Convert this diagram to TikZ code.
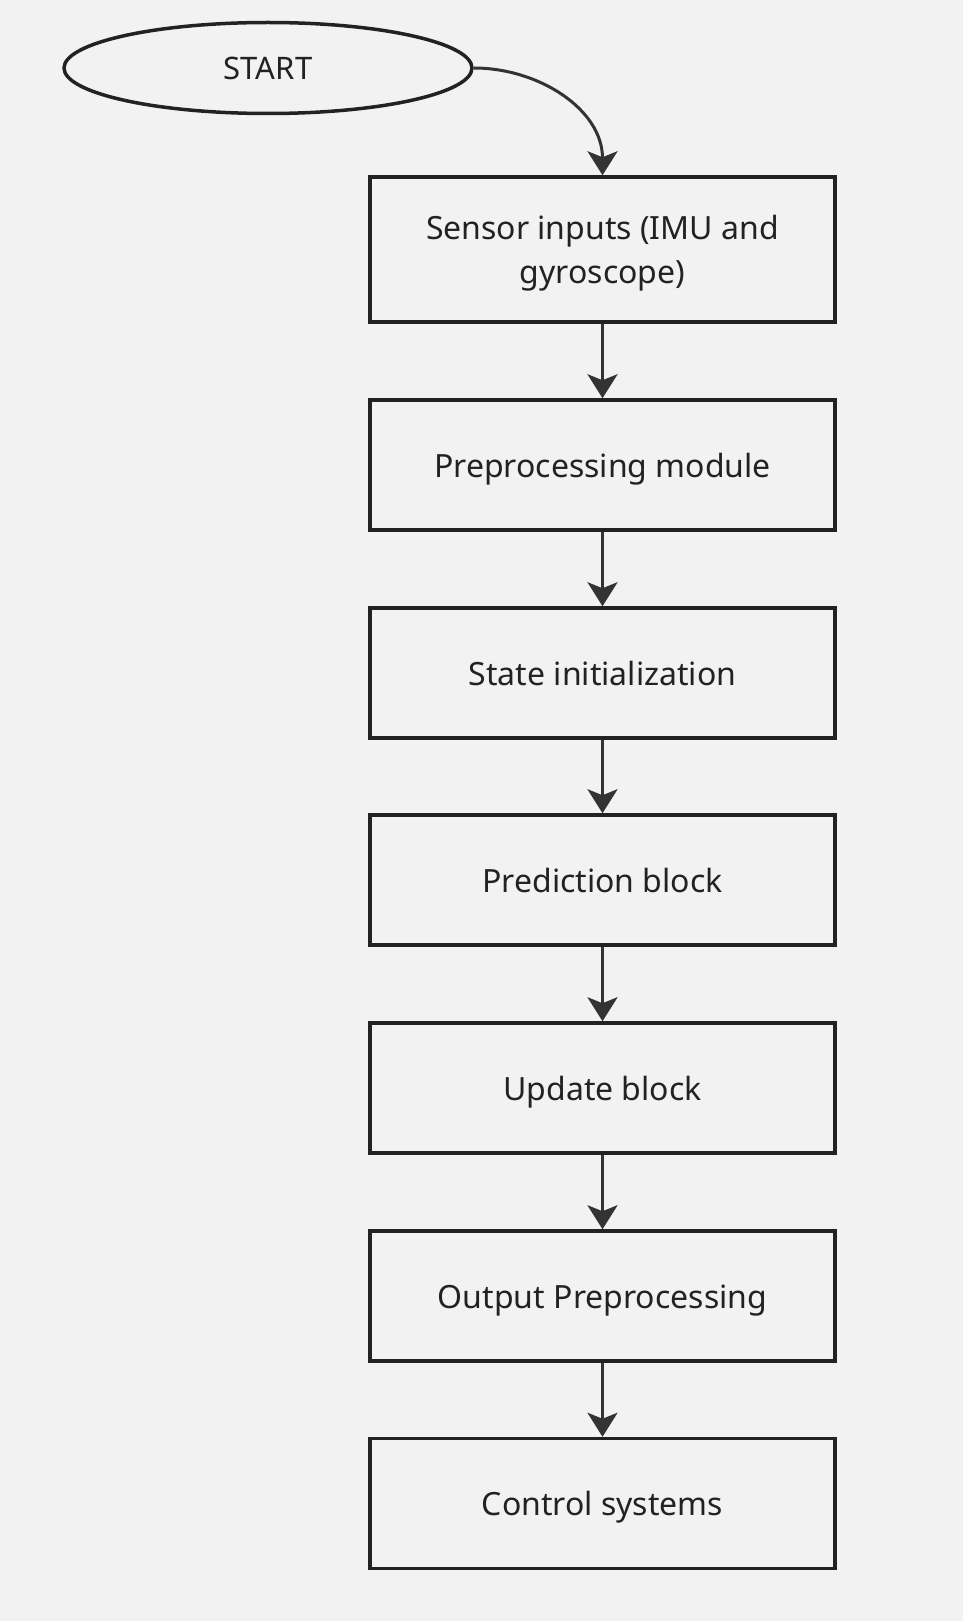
\documentclass[tikz,border=0pt]{standalone}
\usepackage{fontspec}
\setmainfont{Noto Sans}
\usetikzlibrary{arrows.meta,shapes.geometric}
\definecolor{bgc}{HTML}{F2F2F2}
\definecolor{linec}{HTML}{222222}
\definecolor{arrc}{HTML}{333333}
\begin{document}
\begin{tikzpicture}[x=1pt,y=-1pt,
  stepbox/.style={draw=linec, line width=3.5pt, minimum width=465pt, minimum height=130pt, inner sep=0pt, align=center, text=linec, font=\fontsize{32}{44.5}\selectfont, text height=28pt, text depth=4pt},
  startnode/.style={draw=linec, line width=3.5pt, ellipse, minimum width=408pt, minimum height=91pt, inner sep=0pt, text=linec, font=\fontsize{31}{44.5}\selectfont},
  conn/.style={draw=arrc, line width=3pt, -{Stealth[length=24pt,width=30pt,inset=6pt]}}]
\fill[bgc] (0,0) rectangle (963,1621);
\useasboundingbox (0,0) rectangle (963,1621);
\node[startnode] (start) at (268,68) {START};
\node[stepbox, minimum height=145pt, text height=, text depth=0pt] (s1) at (602.5,249.5) {Sensor inputs (IMU and\\gyroscope)};
\node[stepbox] (s2) at (602.5,465) {Preprocessing module};
\node[stepbox] (s3) at (602.5,673) {State initialization};
\node[stepbox] (s4) at (602.5,880) {Prediction block};
\node[stepbox] (s5) at (602.5,1088) {Update block};
\node[stepbox] (s6) at (602.5,1296) {Output Preprocessing};
\node[stepbox] (s7) at (602.5,1503.5) {Control systems};
\draw[conn] (start.east) to[out=0,in=90] (s1.north);
\draw[conn] (s1) -- (s2);
\draw[conn] (s2) -- (s3);
\draw[conn] (s3) -- (s4);
\draw[conn] (s4) -- (s5);
\draw[conn] (s5) -- (s6);
\draw[conn] (s6) -- (s7);
\end{tikzpicture}
\end{document}
